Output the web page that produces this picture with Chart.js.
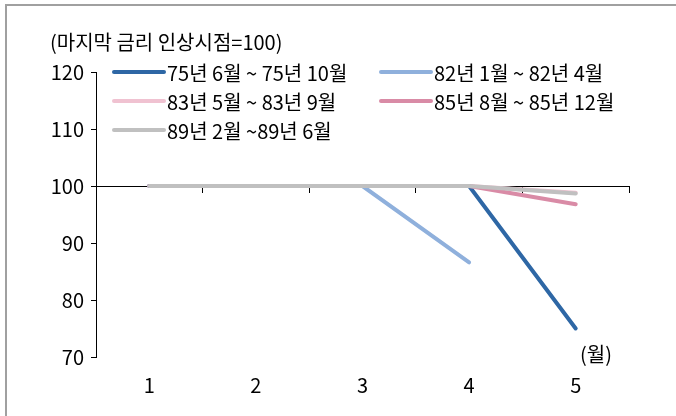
<!DOCTYPE html>
<html>
<head>
<meta charset="utf-8">
<script src="https://cdn.jsdelivr.net/npm/chart.js@4"></script>
<style>
  body { margin: 0; background: #fff; }
  #wrap { position: relative; width: 676px; height: 416px; overflow: hidden; font-family: "Noto Sans CJK KR", "Noto Sans", sans-serif; color: #000; }
  #frame { position: absolute; left: 5px; top: 4px; width: 800px; height: 600px; border-left: 2px solid #a0a0a0; border-top: 2px solid #a0a0a0; }
  #chart { position: absolute; left: 0; top: 0; }
  .txt { position: absolute; font-size: 20px; line-height: 24px; white-space: nowrap; }
  #legend .item { position: absolute; height: 24px; display: flex; align-items: center; font-size: 20px; white-space: nowrap; }
  #legend .swatch { width: 54px; height: 4px; border-radius: 2px; margin-right: 1px; }
</style>
</head>
<body>
<div id="wrap">
  <div id="frame"></div>
  <canvas id="chart" width="676" height="416"></canvas>
  <div class="txt" id="title" style="left:50px; top:30px;">(마지막 금리 인상시점=100)</div>
  <div id="legend"></div>
  <div class="txt" id="unit" style="left:580px; top:342px;">(월)</div>
</div>
<script>
// months after the last rate hike
const months = ['1', '2', '3', '4', '5'];

const seriesNames = [
  '75년 6월 ~ 75년 10월',
  '82년 1월 ~ 82년 4월',
  '83년 5월 ~ 83년 9월',
  '85년 8월 ~ 85년 12월',
  '89년 2월 ~89년 6월'
];
const series7506 = [100, 100, 100, 100, 75];
const series8201 = [100, 100, 100, 86.6, null];
const series8305 = [100, 100, 100, 100, 98.8];
const series8508 = [100, 100, 100, 100, 96.8];
const series8902 = [100, 100, 100, 100, 98.7];

const yTicks = [70, 80, 90, 100, 110, 120];

const colors = ['#2e67a5', '#8fb0dc', '#f0c2d1', '#d98ba6', '#c0c0c0'];
const drawOrder = [3, 5, 4, 2, 1]; // gray sits on top in the original

Chart.defaults.font.family = '"Noto Sans CJK KR", "Noto Sans", sans-serif';
Chart.defaults.font.size = 20;
Chart.defaults.color = '#000';

const allSeries = [series7506, series8201, series8305, series8508, series8902];
const datasets = allSeries.map((data, i) => ({
  label: seriesNames[i],
  data: data,
  borderColor: colors[i],
  backgroundColor: colors[i],
  borderWidth: 4,
  borderCapStyle: 'round',
  pointRadius: 0,
  tension: 0,
  order: drawOrder[i]
}));

new Chart(document.getElementById('chart'), {
  type: 'line',
  data: { labels: months, datasets: datasets },
  options: {
    responsive: false,
    animation: false,
    layout: { padding: { left: 0, top: 72, right: 47, bottom: 0 } },
    plugins: { legend: { display: false }, tooltip: { enabled: false } },
    scales: {
      x: {
        offset: true,
        grid: { display: false, drawTicks: false },
        border: { display: false },
        ticks: { padding: 16, maxRotation: 0 },
        afterFit: s => { s.height = 59; }
      },
      xBase: {
        type: 'category',
        labels: months,
        offset: true,
        position: { y: 100 },
        grid: { offset: true, drawOnChartArea: false, color: '#000', tickLength: 6, lineWidth: 1 },
        border: { display: true, color: '#000', width: 1 },
        ticks: { display: false }
      },
      y: {
        min: yTicks[0],
        max: yTicks[yTicks.length - 1],
        afterBuildTicks: s => { s.ticks = yTicks.map(v => ({ value: v })); },
        grid: { drawOnChartArea: false, color: '#000', tickLength: 5 },
        border: { display: true, color: '#000', width: 1 },
        ticks: { padding: 7 },
        afterFit: s => { s.width = 96; }
      }
    }
  }
});

// legend laid over the plot, two columns like the source
const legendPos = [[112, 60], [379, 60], [112, 89], [379, 89], [112, 118]];
const legend = document.getElementById('legend');
seriesNames.forEach((name, i) => {
  const item = document.createElement('div');
  item.className = 'item';
  item.style.left = legendPos[i][0] + 'px';
  item.style.top = legendPos[i][1] + 'px';
  item.innerHTML = '<span class="swatch" style="background:' + colors[i] + '"></span><span>' + name + '</span>';
  legend.appendChild(item);
});
</script>
</body>
</html>
